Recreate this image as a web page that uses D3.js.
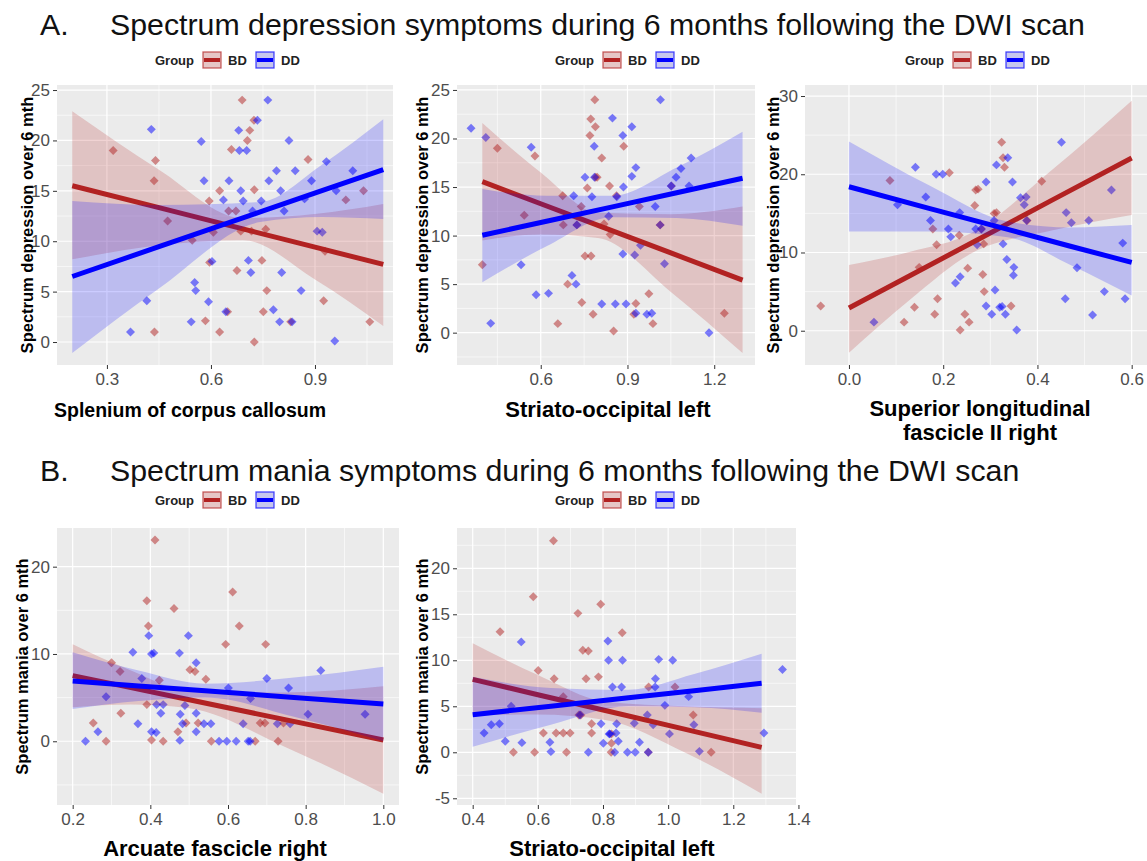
<!DOCTYPE html>
<html>
<head>
<meta charset="utf-8">
<script src="https://cdn.jsdelivr.net/npm/d3@7"></script>
<style>
  body { margin: 0; background: #fff; }
  text { font-family: "Liberation Sans", Arial, Helvetica, sans-serif; }
</style>
</head>
<body>
<svg id="chart" width="1147" height="861"></svg>
<script>
// ---- data ----
const groups = ["BD", "DD"];

// A. depression ~ splenium of corpus callosum
const splBD = [[0.318,19.0],[0.436,16.0],[0.440,18.0],[0.437,1.0],[0.475,12.0],[0.546,10.1],[0.584,2.1],[0.595,14.0],[0.596,7.9],[0.607,10.9],[0.625,1.0],[0.625,15.0],[0.648,3.0],[0.651,13.0],[0.659,19.1],[0.672,13.0],[0.675,7.1],[0.686,11.0],[0.690,24.0],[0.705,20.0],[0.712,21.0],[0.717,11.0],[0.724,22.0],[0.725,0],[0.725,15.1],[0.747,8.1],[0.751,3.0],[0.758,11.2],[0.761,5.1],[0.830,2.0],[0.880,18.1],[0.925,4.1],[0.929,9.0],[0.989,14.1],[1.040,15.0],[1.058,2.0]];
const splDD = [[0.368,1.0],[0.415,4.1],[0.428,21.1],[0.543,2.0],[0.553,5.9],[0.556,5.1],[0.572,19.9],[0.580,16.0],[0.593,4.0],[0.603,8.0],[0.636,14.1],[0.643,3.0],[0.652,16.0],[0.680,21.0],[0.682,19.0],[0.686,15.0],[0.693,14.0],[0.703,19.0],[0.708,8.1],[0.715,6.9],[0.720,13.0],[0.734,22.0],[0.745,14.0],[0.764,24.0],[0.767,16.0],[0.780,3.2],[0.789,17.0],[0.798,2.0],[0.801,15.0],[0.804,6.9],[0.811,13.0],[0.825,20.0],[0.834,2.0],[0.843,17.0],[0.860,5.1],[0.870,14.2],[0.890,16.0],[0.906,11.0],[0.921,10.9],[0.933,17.9],[0.957,0.1],[0.961,15.0],[1.009,17.0]];
// fit rows: [x, fit, lower, upper]
const splFitBD = [[0.2,15.5,8.2,22.9],[0.45,13.33,9.6,17.1],[0.692,11.22,10.1,12.3],[0.9,9.41,6.2,12.7],[1.097,7.7,1.6,13.7]];
const splFitDD = [[0.2,6.5,-1.1,14.0],[0.45,9.46,5.3,13.6],[0.742,12.91,11.9,13.9],[0.92,15.02,12.4,17.6],[1.097,17.11,12.2,22.1]];

// A. depression ~ striato-occipital left
const strBD = [[0.398,7.0],[0.450,19.0],[0.543,12.1],[0.580,18.2],[0.659,0.93],[0.676,14.1],[0.678,11.1],[0.693,5.0],[0.725,11.1],[0.740,13.0],[0.742,3.1],[0.753,7.9],[0.761,14.9],[0.770,20.3],[0.773,22.0],[0.774,7.9],[0.781,1.9],[0.789,21.2],[0.789,16.0],[0.795,16.0],[0.787,24.0],[0.811,18.0],[0.819,11.2],[0.838,15.1],[0.840,10.1],[0.852,0.17],[0.862,14.1],[0.887,19.2],[0.929,3.0],[0.922,1.9],[0.941,13.0],[0.974,4.0],[0.988,0.93],[1.013,11.1],[1.052,15.1],[1.235,2.0]];
const strDD = [[0.359,21.05],[0.410,20.1],[0.427,0.96],[0.532,7.0],[0.567,19.1],[0.584,3.9],[0.627,4.05],[0.708,5.9],[0.714,14.1],[0.722,5.0],[0.725,11.1],[0.753,16.0],[0.777,14.0],[0.785,19.2],[0.786,16.0],[0.811,2.95],[0.835,12.0],[0.848,22.1],[0.858,2.95],[0.863,14.0],[0.884,20.3],[0.884,8.1],[0.886,15.0],[0.895,2.95],[0.915,21.2],[0.915,16.1],[0.925,8.0],[0.929,17.0],[0.929,2.0],[0.945,9.0],[0.967,1.9],[0.984,2.0],[0.996,13.0],[1.014,24.0],[1.013,11.1],[1.028,7.1],[1.051,15.1],[1.068,16.0],[1.085,16.9],[1.113,15.1],[1.120,18.0],[1.182,0]];
const strFitBD = [[0.398,15.56,9.5,21.6],[0.6,13.28,10.1,16.5],[0.798,11.05,9.75,12.35],[1.05,8.21,4.2,12.2],[1.298,5.42,-2.1,13.0]];
const strFitDD = [[0.398,10.03,5.2,14.8],[0.62,11.48,8.9,14.1],[0.848,12.96,11.9,14.1],[1.07,14.41,11.8,17.0],[1.298,15.9,11.0,20.7]];

// A. depression ~ superior longitudinal fascicle II right
const slfBD = [[-0.060,3.15],[0.087,19.2],[0.117,1.1],[0.139,3.0],[0.149,8.1],[0.178,13.0],[0.182,2.1],[0.186,11.0],[0.188,4.1],[0.213,20.2],[0.234,12.2],[0.236,0.1],[0.246,2.1],[0.252,8.0],[0.255,1.1],[0.267,16.0],[0.269,18.0],[0.274,18.1],[0.281,13.0],[0.284,7.2],[0.286,11.1],[0.287,5.0],[0.308,15.0],[0.313,15.1],[0.324,24.1],[0.327,22.1],[0.330,20.9],[0.344,3.15],[0.378,14.1],[0.409,19.1]];
const slfDD = [[0.053,1.1],[0.103,16.1],[0.141,20.9],[0.163,17.1],[0.173,14.1],[0.185,20.0],[0.199,20.0],[0.211,13.0],[0.216,12.0],[0.226,6.1],[0.235,15.1],[0.236,6.9],[0.269,13.0],[0.272,11.0],[0.281,13.0],[0.291,19.0],[0.291,3.15],[0.303,2.1],[0.308,14.1],[0.310,5.2],[0.313,21.2],[0.320,3.0],[0.325,3.1],[0.327,11.1],[0.332,2.1],[0.335,9.1],[0.337,22.1],[0.347,19.0],[0.349,7.1],[0.350,8.1],[0.356,0.1],[0.364,17.0],[0.372,16.1],[0.376,17.1],[0.377,14.1],[0.451,24.1],[0.459,4.1],[0.461,15.1],[0.472,13.8],[0.484,8.05],[0.509,14.1],[0.517,2.0],[0.542,5.0],[0.557,18.0],[0.581,11.2],[0.586,4.1]];
const slfFitBD = [[0,2.9,-2.8,8.4],[0.13,7.06,4.0,10.1],[0.26,11.22,9.9,12.5],[0.43,16.66,12.8,20.5],[0.6,22.07,14.8,29.4]];
const slfFitDD = [[0,18.4,12.7,24.2],[0.17,15.65,12.7,18.6],[0.337,12.95,11.95,13.95],[0.47,10.8,8.4,13.2],[0.6,8.73,4.5,13.5]];

// B. mania ~ arcuate fascicle right
const arcBD = [[0.253,2.1],[0.286,0],[0.300,9.0],[0.322,8.0],[0.324,3.2],[0.391,16.1],[0.395,13.2],[0.391,4.2],[0.403,0.15],[0.412,23.05],[0.423,7.0],[0.433,0],[0.461,15.2],[0.471,1.1],[0.492,2.1],[0.502,8.2],[0.515,8.0],[0.523,2.1],[0.543,7.1],[0.557,0],[0.594,11.1],[0.612,17.1],[0.629,13.2],[0.670,0],[0.683,2.1],[0.695,2.1],[0.697,11.1],[0.729,0],[0.743,2.1]];
const arcDD = [[0.233,0],[0.265,1.1],[0.286,5.1],[0.355,10.2],[0.368,2.0],[0.378,7.2],[0.396,12.1],[0.403,10.0],[0.409,10.1],[0.403,1.1],[0.415,1.0],[0.416,4.2],[0.427,3.2],[0.433,4.2],[0.475,10.1],[0.476,0.1],[0.477,3.1],[0.483,2.0],[0.489,4.1],[0.498,12.1],[0.518,9.0],[0.518,1.1],[0.518,3.2],[0.538,2.0],[0.556,2.0],[0.577,0],[0.597,0],[0.601,6.1],[0.621,0],[0.639,2.0],[0.652,0],[0.657,0],[0.658,4.9],[0.700,7.2],[0.727,2.0],[0.756,6.1],[0.760,2.0],[0.806,3.1],[0.839,8.1],[0.953,3.1]];
const arcFitBD = [[0.2,7.52,3.9,11.1],[0.35,6.14,4.2,8.1],[0.497,4.78,3.8,5.8],[0.75,2.45,-0.7,5.6],[1.0,0.15,-6.0,6.3]];
const arcFitDD = [[0.2,6.9,3.7,10.2],[0.37,6.34,4.6,8.1],[0.541,5.78,5.0,6.6],[0.77,5.02,2.8,7.3],[1.0,4.27,0.0,8.55]];

// B. mania ~ striato-occipital left
const strMBD = [[0.484,13.1],[0.525,0],[0.590,0],[0.586,16.9],[0.601,8.9],[0.617,2.1],[0.648,23.0],[0.650,8.0],[0.656,2.1],[0.678,2.1],[0.678,6.05],[0.688,0],[0.699,2.1],[0.723,15.1],[0.726,4.06],[0.732,4.06],[0.738,11.1],[0.748,8.0],[0.755,11.0],[0.765,3.1],[0.765,2.1],[0.786,8.2],[0.793,16.1],[0.826,0.98],[0.825,0],[0.826,2.0],[0.859,13.0],[0.939,0],[0.940,7.1],[1.021,7.1],[1.077,4.06],[1.132,0]];
const strMDD = [[0.435,2.1],[0.457,3.0],[0.482,3.1],[0.500,1.2],[0.518,5.0],[0.551,1.05],[0.549,12.0],[0.637,1.1],[0.640,0.07],[0.755,0],[0.729,4.06],[0.794,3.1],[0.801,0.98],[0.815,12.1],[0.817,10.0],[0.819,2.0],[0.821,2.0],[0.829,7.1],[0.836,0],[0.840,2.1],[0.842,3.1],[0.847,1.2],[0.857,7.1],[0.860,10.0],[0.875,0],[0.896,3.15],[0.899,0],[0.912,1.1],[0.939,0],[0.936,4.06],[0.954,3.0],[0.960,7.1],[0.961,8.0],[0.971,10.1],[0.990,5.1],[1.004,2.0],[1.014,10.0],[1.063,6.05],[1.079,3.0],[1.096,0.1],[1.294,2.1],[1.351,9.0]];
const strMFitBD = [[0.4,7.93,4.0,11.85],[0.6,6.26,4.1,8.4],[0.807,4.54,3.5,5.5],[1.05,2.52,0.0,5.0],[1.287,0.54,-4.5,4.8]];
const strMFitDD = [[0.4,4.09,0.6,8.2],[0.64,5.01,3.0,7.0],[0.878,5.93,5.0,6.8],[1.08,6.7,4.9,8.5],[1.287,7.5,4.3,10.7]];

// tick labels
const splXTicks = [0.3, 0.6, 0.9];
const strXTicks = [0.6, 0.9, 1.2];
const slfXTicks = [0.0, 0.2, 0.4, 0.6];
const arcXTicks = [0.2, 0.4, 0.6, 0.8, 1.0];
const strMXTicks = [0.4, 0.6, 0.8, 1.0, 1.2, 1.4];
const depYTicks = [0, 5, 10, 15, 20, 25];
const slfYTicks = [0, 10, 20, 30];
const arcYTicks = [0, 10, 20];
const strMYTicks = [-5, 0, 5, 10, 15, 20];

// ---- drawing ----
const color = { BD: "#b22222", DD: "#0000ff" };
const svg = d3.select("#chart");

const diamond = {
  draw(ctx, size) {
    const r = Math.sqrt(size) / 2;
    ctx.moveTo(0, -r); ctx.lineTo(r, 0); ctx.lineTo(0, r); ctx.lineTo(-r, 0); ctx.closePath();
  }
};

function minorTicks(ticks, domain) {
  const step = ticks[1] - ticks[0];
  const out = [];
  for (let v = ticks[0] - step / 2; v <= domain[1]; v += step) {
    if (v >= domain[0]) out.push(v);
  }
  return out;
}

let clipId = 0;
function drawPanel(p) {
  const x = d3.scaleLinear().domain(p.xDomain).range([p.left, p.right]);
  const y = d3.scaleLinear().domain(p.yDomain).range([p.bottom, p.top]);
  const g = svg.append("g");

  g.append("rect")
    .attr("x", p.left).attr("y", p.top)
    .attr("width", p.right - p.left).attr("height", p.bottom - p.top)
    .attr("fill", "#ebebeb");

  const id = "clip" + (clipId++);
  g.append("clipPath").attr("id", id).append("rect")
    .attr("x", p.left).attr("y", p.top)
    .attr("width", p.right - p.left).attr("height", p.bottom - p.top);

  const grid = g.append("g").attr("stroke", "#fff").attr("fill", "none");
  minorTicks(p.xTicks, p.xDomain).forEach(v => grid.append("line")
    .attr("x1", x(v)).attr("x2", x(v)).attr("y1", p.top).attr("y2", p.bottom).attr("stroke-width", 0.6));
  minorTicks(p.yTicks, p.yDomain).forEach(v => grid.append("line")
    .attr("y1", y(v)).attr("y2", y(v)).attr("x1", p.left).attr("x2", p.right).attr("stroke-width", 0.6));
  p.xTicks.forEach(v => grid.append("line")
    .attr("x1", x(v)).attr("x2", x(v)).attr("y1", p.top).attr("y2", p.bottom).attr("stroke-width", 1.2));
  p.yTicks.forEach(v => grid.append("line")
    .attr("y1", y(v)).attr("y2", y(v)).attr("x1", p.left).attr("x2", p.right).attr("stroke-width", 1.2));

  const plot = g.append("g").attr("clip-path", `url(#${id})`);
  const sym = d3.symbol().type(diamond).size(80);

  groups.forEach(k => {
    plot.append("g").selectAll("path")
      .data(p.points[k])
      .join("path")
      .attr("transform", d => `translate(${x(d[0])},${y(d[1])})`)
      .attr("d", sym)
      .attr("fill", color[k])
      .attr("fill-opacity", 0.5);
  });

  const area = d3.area().x(d => x(d[0])).y0(d => y(d[2])).y1(d => y(d[3])).curve(d3.curveMonotoneX);
  const line = d3.line().x(d => x(d[0])).y(d => y(d[1]));
  groups.forEach(k => {
    plot.append("path").datum(p.fits[k])
      .attr("d", area).attr("fill", color[k]).attr("fill-opacity", 0.2);
    plot.append("path").datum(p.fits[k])
      .attr("d", line).attr("fill", "none").attr("stroke", color[k])
      .attr("stroke-width", 5);
  });

  const fmtX = d3.format(".1f");
  const xAxis = g.append("g").attr("transform", `translate(0,${p.bottom})`)
    .call(d3.axisBottom(x).tickValues(p.xTicks).tickSize(4).tickPadding(4).tickFormat(fmtX));
  const yAxis = g.append("g").attr("transform", `translate(${p.left},0)`)
    .call(d3.axisLeft(y).tickValues(p.yTicks).tickSize(4).tickPadding(3).tickFormat(v => String(v)));
  [xAxis, yAxis].forEach(a => {
    a.attr("font-size", null).attr("font-family", null);
    a.select(".domain").remove();
    a.selectAll("line").attr("stroke", "#333");
    a.selectAll("text").attr("fill", "#4d4d4d").style("font-size", "17px");
  });

  const xt = g.append("text").attr("text-anchor", "middle")
    .attr("font-weight", "bold").style("font-size", p.xTitleSize + "px").attr("fill", "#000");
  p.xTitle.forEach((s, i) => xt.append("tspan").attr("x", p.xTitleX).attr("y", p.xTitleY + i * 24).text(s));

  g.append("text")
    .attr("transform", `translate(${p.yTitleX},${(p.top + p.bottom) / 2}) rotate(-90)`)
    .attr("text-anchor", "middle").attr("dy", "0.35em")
    .attr("font-weight", "bold").style("font-size", "16.5px").attr("fill", "#000")
    .text(p.yTitle);
}

function drawLegend(x0, yc) {
  const lg = svg.append("g").attr("transform", `translate(${x0},${yc})`);
  lg.append("text").attr("dy", "0.35em").attr("font-weight", "bold")
    .style("font-size", "13px").attr("fill", "#222").text("Group");
  const keyFill = { BD: "#e6c6c6", DD: "#c6c6ee" };
  groups.forEach((k, i) => {
    const kx = 48 + i * 53;
    lg.append("rect").attr("x", kx).attr("y", -8).attr("width", 18).attr("height", 16)
      .attr("fill", keyFill[k]).attr("stroke", color[k]).attr("stroke-opacity", 0.7).attr("stroke-width", 1.3);
    lg.append("line").attr("x1", kx + 1).attr("x2", kx + 17).attr("y1", 0).attr("y2", 0)
      .attr("stroke", color[k]).attr("stroke-width", 4);
    lg.append("text").attr("x", kx + 25).attr("dy", "0.35em").attr("font-weight", "bold")
      .style("font-size", "13px").attr("fill", "#222").text(k);
  });
}

function drawTitle(letter, label, yb) {
  svg.append("text").attr("x", 40).attr("y", yb).style("font-size", "30.3px").attr("fill", "#111").text(letter);
  svg.append("text").attr("x", 110).attr("y", yb).style("font-size", "30.3px").attr("fill", "#111").text(label);
}

drawTitle("A.", "Spectrum depression symptoms during 6 months following the DWI scan", 35);
drawTitle("B.", "Spectrum mania symptoms during 6 months following the DWI scan", 481);

const depTitle = "Spectrum depression over 6 mth";
const maniaTitle = "Spectrum mania over 6 mth";

drawPanel({
  left: 57, right: 393, top: 85, bottom: 365,
  xDomain: [0.156, 1.125], yDomain: [-2.28, 25.5],
  xTicks: splXTicks, yTicks: depYTicks,
  points: { BD: splBD, DD: splDD }, fits: { BD: splFitBD, DD: splFitDD },
  xTitle: ["Splenium of corpus callosum"], xTitleX: 190, xTitleY: 417, xTitleSize: 19.5,
  yTitle: depTitle, yTitleX: 27
});
drawPanel({
  left: 457, right: 755, top: 85, bottom: 365,
  xDomain: [0.3104, 1.341], yDomain: [-3.33, 25.51],
  xTicks: strXTicks, yTicks: depYTicks,
  points: { BD: strBD, DD: strDD }, fits: { BD: strFitBD, DD: strFitDD },
  xTitle: ["Striato-occipital left"], xTitleX: 608, xTitleY: 417, xTitleSize: 22,
  yTitle: depTitle, yTitleX: 422
});
drawPanel({
  left: 805, right: 1147, top: 85, bottom: 365,
  xDomain: [-0.0933, 0.6325], yDomain: [-4.38, 31.41],
  xTicks: slfXTicks, yTicks: slfYTicks,
  points: { BD: slfBD, DD: slfDD }, fits: { BD: slfFitBD, DD: slfFitDD },
  xTitle: ["Superior longitudinal", "fascicle II right"], xTitleX: 980, xTitleY: 416, xTitleSize: 22,
  yTitle: depTitle, yTitleX: 773
});
drawPanel({
  left: 57, right: 399, top: 528, bottom: 805,
  xDomain: [0.1596, 1.0404], yDomain: [-7.3, 24.43],
  xTicks: arcXTicks, yTicks: arcYTicks,
  points: { BD: arcBD, DD: arcDD }, fits: { BD: arcFitBD, DD: arcFitDD },
  xTitle: ["Arcuate fascicle right"], xTitleX: 215, xTitleY: 856, xTitleSize: 22,
  yTitle: maniaTitle, yTitleX: 22
});
drawPanel({
  left: 457, right: 796, top: 528, bottom: 805,
  xDomain: [0.3518, 1.3925], yDomain: [-5.73, 24.38],
  xTicks: strMXTicks, yTicks: strMYTicks,
  points: { BD: strMBD, DD: strMDD }, fits: { BD: strMFitBD, DD: strMFitDD },
  xTitle: ["Striato-occipital left"], xTitleX: 612, xTitleY: 856, xTitleSize: 22,
  yTitle: maniaTitle, yTitleX: 422
});

drawLegend(155, 60);
drawLegend(555, 60);
drawLegend(905, 60);
drawLegend(155, 500);
drawLegend(555, 500);
</script>
</body>
</html>
